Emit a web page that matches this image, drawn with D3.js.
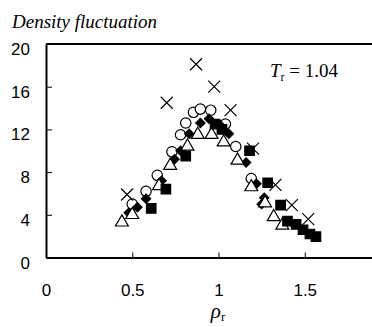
<!DOCTYPE html>
<html>
<head>
<meta charset="utf-8">
<script src="https://cdn.jsdelivr.net/npm/d3@7"></script>
<style>
  body { margin: 0; background: #fff; }
  svg { display: block; }
</style>
</head>
<body>
<svg id="chart" width="372" height="327"></svg>
<script>
// data: [rho_r, density fluctuation]
const crosses = [[0.47,5.9],[0.70,14.5],[0.87,18.1],[0.975,16.0],[1.07,13.8],[1.20,10.2],[1.33,6.8],[1.425,4.9],[1.52,3.6]];
const circles = [[0.50,5.0],[0.58,6.2],[0.645,7.7],[0.73,9.9],[0.78,11.5],[0.81,12.6],[0.855,13.6],[0.895,13.9],[0.955,13.8],[1.04,12.5],[1.10,10.4],[1.19,7.4]];
const diamonds = [[0.48,4.2],[0.53,4.7],[0.58,5.5],[0.67,7.2],[0.745,9.2],[0.78,10.0],[0.83,11.6],[0.895,12.6],[0.945,13.0],[1.01,12.4],[1.06,11.6],[1.16,8.9],[1.22,6.9],[1.25,5.0],[1.265,5.6],[1.39,3.3]];
const triangles = [[0.44,3.3],[0.50,4.0],[0.655,6.7],[0.72,8.6],[0.82,10.4],[0.88,11.5],[0.96,11.5],[1.03,10.8],[1.11,9.1],[1.19,6.6],[1.27,5.1],[1.32,3.8],[1.37,3.0]];
const squares = [[0.61,4.6],[0.695,6.4],[0.81,9.5],[0.98,12.5],[1.02,12.0],[1.18,10.0],[1.285,7.0],[1.36,4.9],[1.40,3.4],[1.45,3.1],[1.49,2.6],[1.53,2.2],[1.565,1.95]];

const xTicks = [0, 0.5, 1, 1.5];
const yTicks = [0, 4, 8, 12, 16, 20];

const sans = "'Liberation Sans', Arial, sans-serif";
const serif = "'Liberation Serif', 'Times New Roman', serif";

const svg = d3.select("#chart");

const x = d3.scaleLinear().domain([0, 2]).range([46, 391]);
const y = d3.scaleLinear().domain([0, 20]).range([257.5, 44]);

// y axis, ticks pointing inward
const yAxis = svg.append("g")
    .attr("transform", `translate(${x(0)},0)`)
    .call(d3.axisLeft(y).tickValues(yTicks).tickFormat(d3.format("d"))
      .tickSizeInner(-6).tickSizeOuter(0).tickPadding(16));
yAxis.select(".domain").attr("stroke-width", 2);
yAxis.selectAll("text")
    .attr("dy", "0.62em")
    .style("font-family", sans)
    .style("font-size", "17px")
    .attr("fill", "#000");

// x axis
const xAxis = svg.append("g")
    .attr("transform", `translate(0,${y(0)})`)
    .call(d3.axisBottom(x).tickValues(xTicks).tickFormat(d => d)
      .tickSizeInner(-5).tickSizeOuter(0).tickPadding(26));
xAxis.select(".domain").attr("stroke-width", 2);
xAxis.selectAll("text")
    .style("font-family", sans)
    .style("font-size", "17px")
    .attr("fill", "#000");

// top frame line
svg.append("line")
    .attr("x1", x(0)).attr("x2", x(2))
    .attr("y1", y(20)).attr("y2", y(20))
    .attr("stroke", "#000").attr("stroke-width", 2);

const plot = svg.append("g");

function drawSeries(data, pathFn, fill, cls) {
  plot.append("g").attr("class", cls)
    .selectAll("path")
    .data(data)
    .join("path")
      .attr("transform", d => `translate(${x(d[0])},${y(d[1])})`)
      .attr("d", pathFn)
      .attr("fill", fill)
      .attr("stroke", "#000")
      .attr("stroke-width", 1.2);
}

const xMark = () => { const r = 6; return `M${-r},${-r}L${r},${r}M${-r},${r}L${r},${-r}`; };

drawSeries(circles, d3.symbol(d3.symbolCircle, 85), "#fff", "circles");
plot.append("g").attr("class", "diamonds")
  .selectAll("path")
  .data(diamonds)
  .join("path")
    .attr("transform", d => `translate(${x(d[0])},${y(d[1])}) rotate(45)`)
    .attr("d", d3.symbol(d3.symbolSquare, 60))
    .attr("fill", "#000");
drawSeries(triangles, d3.symbol(d3.symbolTriangle, 72), "#fff", "triangles");
drawSeries(squares, d3.symbol(d3.symbolSquare, 90), "#000", "squares");
drawSeries(crosses, xMark, "none", "crosses");

// titles
svg.append("text")
    .attr("x", 12).attr("y", 28)
    .style("font-family", serif)
    .style("font-style", "italic")
    .style("font-size", "19px")
    .text("Density fluctuation");

const tLabel = svg.append("text")
    .attr("x", 338).attr("y", 77)
    .attr("text-anchor", "end")
    .style("font-family", serif)
    .style("font-size", "19px");
tLabel.append("tspan").style("font-style", "italic").text("T");
tLabel.append("tspan").attr("dy", 4).style("font-size", "12px").text("r");
tLabel.append("tspan").attr("dy", -4).text(" = 1.04");

const xTitle = svg.append("text")
    .attr("x", 218).attr("y", 318)
    .attr("text-anchor", "middle")
    .style("font-family", serif)
    .style("font-size", "21px");
xTitle.append("tspan").style("font-style", "italic").text("ρ");
xTitle.append("tspan").attr("dy", 3).style("font-size", "13px").text("r");
</script>
</body>
</html>
